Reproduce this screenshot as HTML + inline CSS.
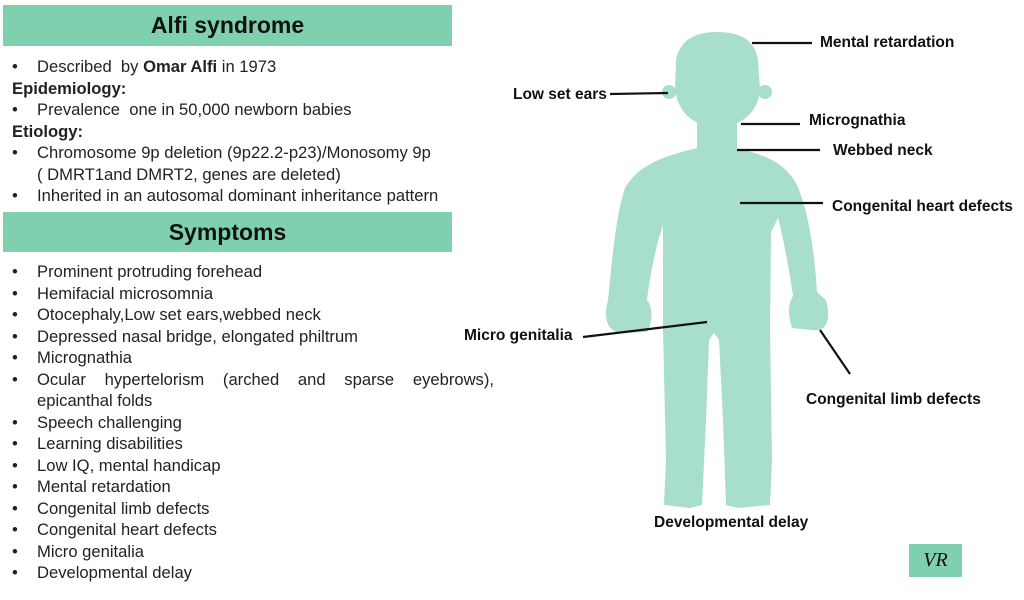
<!DOCTYPE html>
<html><head><style>
body{margin:0;width:1024px;height:600px;background:#fff;position:relative;overflow:hidden;font-family:"Liberation Sans",sans-serif;color:#222}
.hdr{position:absolute;left:3px;width:449px;background:#7fd0ae;text-align:center;font-weight:bold;font-size:23px;color:#111}
.t{position:absolute;left:12px;font-size:16.6px;white-space:nowrap;line-height:21.5px}
.t div{position:relative;padding-left:25px}
.t div.b{padding-left:0;font-weight:bold}
.t div.bl:before{content:"•";position:absolute;left:0}
.lab{position:absolute;font-weight:bold;font-size:15.5px;color:#111;white-space:nowrap}
</style></head><body>
<div class="hdr" style="top:5px;height:41px;line-height:41px">Alfi syndrome</div>
<div class="t" style="top:56px">
<div class="bl">Described&nbsp; by <b>Omar Alfi</b> in 1973</div>
<div class="b">Epidemiology:</div>
<div class="bl">Prevalence&nbsp; one in 50,000 newborn babies</div>
<div class="b">Etiology:</div>
<div class="bl">Chromosome 9p deletion (9p22.2-p23)/Monosomy 9p</div>
<div>( DMRT1and DMRT2, genes are deleted)</div>
<div class="bl">Inherited in an autosomal dominant inheritance pattern</div>
</div>
<div class="hdr" style="top:212px;height:40px;line-height:40px">Symptoms</div>
<div class="t" style="top:261px">
<div class="bl">Prominent protruding forehead</div>
<div class="bl">Hemifacial microsomnia</div>
<div class="bl">Otocephaly,Low set ears,webbed neck</div>
<div class="bl">Depressed nasal bridge, elongated philtrum</div>
<div class="bl">Micrognathia</div>
<div class="bl" style="width:457px;white-space:normal;text-align:justify;text-align-last:justify">Ocular hypertelorism (arched and sparse eyebrows),</div>
<div>epicanthal folds</div>
<div class="bl">Speech challenging</div>
<div class="bl">Learning disabilities</div>
<div class="bl">Low IQ, mental handicap</div>
<div class="bl">Mental retardation</div>
<div class="bl">Congenital limb defects</div>
<div class="bl">Congenital heart defects</div>
<div class="bl">Micro genitalia</div>
<div class="bl">Developmental delay</div>
</div>
<svg style="position:absolute;left:0;top:0" width="1024" height="600">
<g fill="#a8dfca">
<path d="M676,60 C680,40 695,32 717,32 C740,32 755,40 758,60 L760,90 C758,110 745,122 730,125 L705,125 C690,122 678,110 675,90 Z"/>
<circle cx="669" cy="92" r="7"/><circle cx="765" cy="92" r="7"/>
<rect x="697" y="105" width="40" height="55"/>
<path d="M697,148 L736,148 C765,155 785,162 797,185 C810,215 815,260 817,292 L826,300 C831,318 828,332 812,330 L792,328 C787,312 789,302 793,296 C789,270 784,240 778,218 L771,232 L770,330 L772,460 L770,505 L738,508 L726,505 L723,420 L719,340 L714,333 L709,340 L706,420 L702,505 L690,508 L664,505 L666,460 L663,330 L663,225 C656,245 650,275 647,300 C652,306 654,320 647,332 L620,333 C605,330 604,315 608,300 C612,260 616,215 625,188 C640,162 670,155 697,148 Z"/>
</g>
<g stroke="#111" stroke-width="2.2">
<line x1="752" y1="43" x2="812" y2="43"/>
<line x1="610" y1="94" x2="668" y2="93"/>
<line x1="741" y1="124" x2="800" y2="124"/>
<line x1="737" y1="150" x2="820" y2="150"/>
<line x1="740" y1="203" x2="823" y2="203"/>
<line x1="583" y1="337" x2="707" y2="322"/>
<line x1="820" y1="330" x2="850" y2="374"/>
</g>
</svg>
<div class="lab" style="left:820px;top:34px">Mental retardation</div>
<div class="lab" style="left:513px;top:86px">Low set ears</div>
<div class="lab" style="left:809px;top:112px">Micrognathia</div>
<div class="lab" style="left:833px;top:142px">Webbed neck</div>
<div class="lab" style="left:832px;top:198px">Congenital heart defects</div>
<div class="lab" style="left:464px;top:327px">Micro genitalia</div>
<div class="lab" style="left:806px;top:391px">Congenital limb defects</div>
<div class="lab" style="left:654px;top:514px">Developmental delay</div>
<div style="position:absolute;left:909px;top:544px;width:53px;height:33px;background:#7fd0ae;text-align:center;line-height:33px;font-family:'Liberation Serif',serif;font-style:italic;font-size:20px;color:#111">VR</div>
</body></html>
